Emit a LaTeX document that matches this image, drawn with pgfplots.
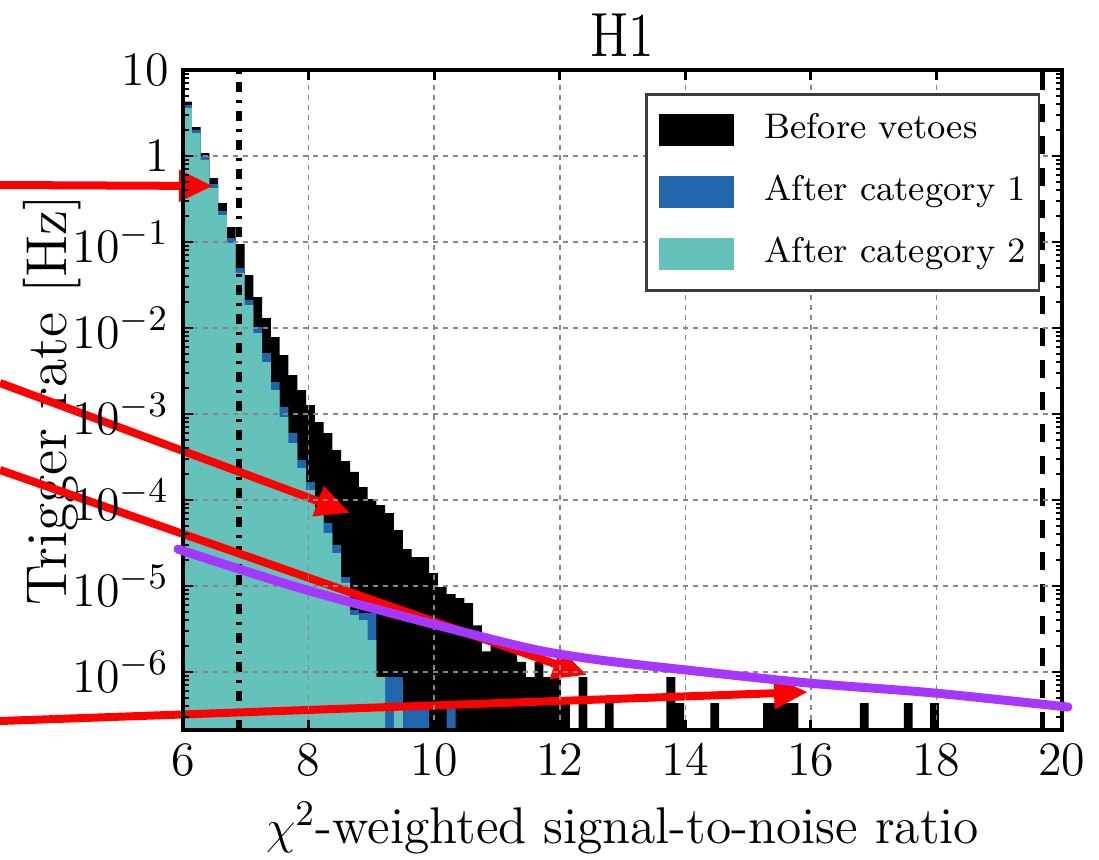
\documentclass[border=0pt]{standalone}
\usepackage{fontspec}
\usepackage{pgfplots}
\pgfplotsset{compat=1.18}
\usepackage{pgfplotstable}
\usetikzlibrary{arrows.meta}
\definecolor{catone}{RGB}{33,102,172}
\definecolor{cattwo}{RGB}{100,194,187}
\definecolor{purp}{RGB}{165,55,255}
\definecolor{gridgray}{RGB}{135,135,135}

\pgfplotstableread{
x y
6.00 2.12e-7
6.00 4.28
6.14 2.17
6.28 1.08
6.42 0.555
6.56 0.284
6.70 0.149
6.84 0.0948
6.98 0.0413
7.12 0.0229
7.26 0.01307
7.40 0.00786
7.54 0.00485
7.68 0.00284
7.82 0.00190
7.96 0.001273
8.10 0.000807
8.24 0.000601
8.38 0.000381
8.52 0.000284
8.66 0.000212
8.80 0.0001416
8.94 0.0001027
9.08 8.75e-5
9.22 7.06e-5
9.36 4.48e-5
9.50 2.69e-5
9.64 2.17e-5
9.78 2.17e-5
9.92 1.416e-5
10.06 9.74e-6
10.20 8.07e-6
10.34 7.25e-6
10.48 6.34e-6
10.62 3.49e-6
10.76 1.74e-6
10.90 2.18e-6
11.04 2.18e-6
11.18 2.18e-6
11.32 1.31e-6
11.46 8.72e-7
11.60 1.31e-6
11.74 8.72e-7
11.88 8.72e-7
12.02 4.36e-7
12.16 2.12e-7
12.30 8.72e-7
12.44 2.12e-7
12.72 4.36e-7
12.86 2.12e-7
13.70 8.72e-7
13.84 4.36e-7
13.98 2.12e-7
14.40 4.36e-7
14.54 2.12e-7
15.24 4.36e-7
15.80 2.12e-7
16.78 4.36e-7
16.92 2.12e-7
17.48 4.36e-7
17.62 2.12e-7
17.90 4.36e-7
18.04 2.12e-7
}\beforetab

\pgfplotstableread{
x y
6.00 2.12e-7
6.00 3.92
6.14 2.01
6.28 1.00
6.42 0.472
6.56 0.229
6.70 0.111
6.84 0.0498
6.98 0.0212
7.12 0.01027
7.26 0.00512
7.40 0.00235
7.54 0.001206
7.68 0.000601
7.82 0.000292
7.96 0.000162
8.10 8.29e-5
8.24 5.40e-5
8.38 3.00e-5
8.52 1.273e-5
8.66 5.26e-6
8.80 4.85e-6
8.94 4.85e-6
9.08 8.72e-7
9.22 8.72e-7
9.36 8.72e-7
9.50 4.36e-7
9.92 2.12e-7
10.20 4.36e-7
10.34 2.12e-7
}\catonetab

\pgfplotstableread{
x y
6.00 2.12e-7
6.00 3.62
6.14 1.85
6.28 0.899
6.42 0.424
6.56 0.206
6.70 0.0974
6.84 0.0436
6.98 0.0185
7.12 0.00875
7.26 0.00402
7.40 0.00190
7.54 0.000923
7.68 0.000460
7.82 0.000235
7.96 0.0001307
8.10 7.06e-5
8.24 4.13e-5
8.38 2.42e-5
8.52 1.10e-5
8.66 4.60e-6
8.80 4.02e-6
8.94 2.36e-6
9.08 8.72e-7
9.22 2.12e-7
9.36 4.36e-7
9.50 2.12e-7
}\cattwotab

\begin{document}
\begin{tikzpicture}
\begin{axis}[
  set layers,
  axis on top,
  at={(45.75pt,32.25pt)}, anchor=south west,
  scale only axis, width=219.75pt, height=165pt,
  xmin=6, xmax=20, ymode=log, ymin=2.12e-7, ymax=10,
  clip=false,
  xtick={6,8,10,12,14,16,18,20},
  ytick={1e-6,1e-5,1e-4,1e-3,1e-2,1e-1,1,10},
  yticklabels={$10^{-6}$,$10^{-5}$,$10^{-4}$,$10^{-3}$,$10^{-2}$,$10^{-1}$,$1$,$10$},
  minor ytick={3e-7,4e-7,5e-7,6e-7,7e-7,8e-7,9e-7,
    2e-6,3e-6,4e-6,5e-6,6e-6,7e-6,8e-6,9e-6,
    2e-5,3e-5,4e-5,5e-5,6e-5,7e-5,8e-5,9e-5,
    2e-4,3e-4,4e-4,5e-4,6e-4,7e-4,8e-4,9e-4,
    2e-3,3e-3,4e-3,5e-3,6e-3,7e-3,8e-3,9e-3,
    2e-2,3e-2,4e-2,5e-2,6e-2,7e-2,8e-2,9e-2,
    0.2,0.3,0.4,0.5,0.6,0.7,0.8,0.9,
    2,3,4,5,6,7,8,9},
  xtick pos=both, ytick pos=both,
  tick align=inside,
  major tick length=2.6pt, minor tick length=1.5pt,
  every major tick/.append style={line width=0.7pt, black},
  every minor tick/.append style={line width=0.5pt, black},
  axis line style={line width=1pt, black},
  xmajorgrids, ymajorgrids,
  major grid style={gridgray, line width=0.4pt, dash pattern=on 1.25pt off 1.25pt},
  ticklabel style={font=\fontsize{12.4}{14}\selectfont},
  xlabel={$\chi^2$-weighted signal-to-noise ratio},
  xlabel style={font=\fontsize{12.9}{14}\selectfont},
  ylabel={Trigger rate [Hz]},
  ylabel style={font=\fontsize{14.4}{16}\selectfont, at={(axis description cs:-0.183,0.5)}, anchor=north, inner sep=0pt},
  legend cell align=left,
  legend style={at={(0.975,0.965)}, anchor=north east, draw={rgb,255:red,60;green,60;blue,60}, line width=0.6pt, fill=white,
    font=\fontsize{8.9}{10}\selectfont, inner xsep=3.25pt, inner ysep=3.5pt, row sep=4.5pt,
    nodes={inner xsep=0pt, inner ysep=0pt, text height=7.5pt, text depth=3.5pt},
    /tikz/every odd column/.append style={column sep=7.5pt}},
  legend image code/.code={\fill[#1] (0pt,-4pt) rectangle (18.75pt,4pt);},
]
\addplot[const plot mark left, fill=black, draw=none] table[x=x,y=y] {\beforetab};
\addlegendentry{Before vetoes}
\addplot[const plot mark left, fill=catone, draw=none] table[x=x,y=y] {\catonetab};
\addlegendentry{After category 1}
\addplot[const plot mark left, fill=cattwo, draw=none] table[x=x,y=y] {\cattwotab};
\addlegendentry{After category 2}
\addplot[forget plot, black, line width=1.5pt, dash pattern=on 2.5pt off 2pt on 0.75pt off 2pt] coordinates {(6.89,2.12e-7) (6.89,10)};
\addplot[forget plot, black, line width=1.25pt, dash pattern=on 4.5pt off 3.5pt] coordinates {(19.69,2.12e-7) (19.69,10)};
\addplot[forget plot, on layer=axis foreground, purp, line width=2.25pt, line cap=round, smooth] coordinates {
(5.920,2.69e-5) (7.863,9.47e-6) (9.981,3.61e-6) (11.574,1.85e-6) (12.641,1.38e-6) (14.027,1.055e-6) (15.970,7.45e-7) (17.977,5.70e-7) (20.094,3.92e-7)};
\node[font=\fontsize{13}{15}\selectfont, anchor=base, yscale=1.2, inner sep=0pt] at (rel axis cs:0.5,1.021) {H1};
\end{axis}
\begin{scope}[red, line width=2pt]
\draw[-{Triangle[length=8.5pt,width=7.5pt]}] (0pt,168.5pt) -- (53.25pt,168.25pt);
\draw[-{Triangle[length=8.5pt,width=7.5pt]}] (0pt,119pt) -- (87.5pt,86.5pt);
\draw[-{Triangle[length=8.5pt,width=7.5pt]}] (0pt,97.25pt) -- (146.75pt,46pt);
\draw[-{Triangle[length=8.5pt,width=7.5pt]}] (0pt,34.5pt) -- (202pt,41.75pt);
\end{scope}
\pgfresetboundingbox
\path[use as bounding box] (0,0) rectangle (274.75pt,214.75pt);
\end{tikzpicture}
\end{document}
